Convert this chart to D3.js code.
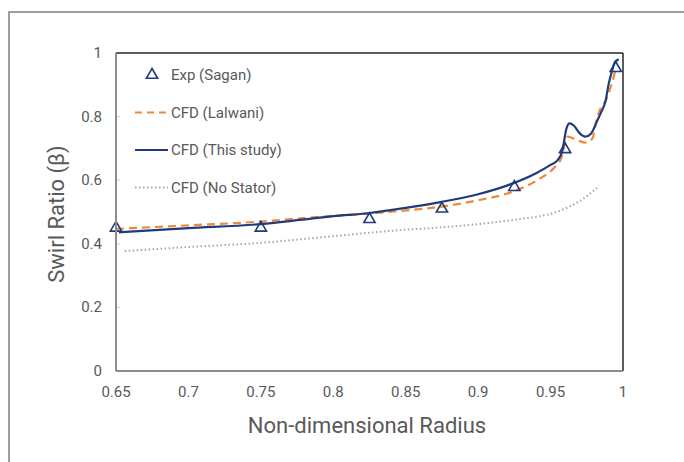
<!DOCTYPE html>
<html>
<head>
<meta charset="utf-8">
<script src="https://cdn.jsdelivr.net/npm/d3@7"></script>
<style>
  body { margin: 0; background: #fff; }
  text { font-family: Roboto, "Noto Sans", sans-serif; fill: #595959; }
</style>
</head>
<body>
<div id="chart"></div>
<script>
// experimental points (Sagan)
const expX = [0.65, 0.75, 0.825, 0.875, 0.925, 0.96, 0.995];
const expY = [0.45, 0.45, 0.477, 0.51, 0.578, 0.697, 0.952];

// CFD (Lalwani)
const lalX = [0.65, 0.7, 0.75, 0.777, 0.8, 0.824, 0.85, 0.875, 0.9, 0.924, 0.94, 0.952, 0.957, 0.962, 0.967, 0.974, 0.979, 0.981, 0.984, 0.988, 0.992, 0.995];
const lalY = [0.447, 0.458, 0.47, 0.48, 0.488, 0.495, 0.505, 0.517, 0.537, 0.564, 0.598, 0.637, 0.665, 0.737, 0.729, 0.718, 0.732, 0.775, 0.821, 0.85, 0.9, 0.95];

// CFD (This study)
const thisX = [0.652, 0.7, 0.75, 0.777, 0.8, 0.824, 0.85, 0.875, 0.9, 0.924, 0.94, 0.95, 0.955, 0.958, 0.961, 0.963, 0.966, 0.97, 0.974, 0.978, 0.982, 0.985, 0.988, 0.99, 0.9925, 0.9945, 0.997];
const thisY = [0.436, 0.449, 0.462, 0.475, 0.487, 0.496, 0.513, 0.532, 0.556, 0.59, 0.622, 0.648, 0.664, 0.69, 0.763, 0.779, 0.772, 0.748, 0.737, 0.747, 0.785, 0.815, 0.85, 0.9, 0.945, 0.972, 0.98];

// CFD (No Stator)
const noX = [0.656, 0.7, 0.75, 0.777, 0.8, 0.846, 0.875, 0.9, 0.929, 0.943, 0.952, 0.962, 0.972, 0.983];
const noY = [0.377, 0.39, 0.403, 0.414, 0.424, 0.443, 0.452, 0.462, 0.478, 0.487, 0.497, 0.515, 0.54, 0.58];

const xTicks = [0.65, 0.7, 0.75, 0.8, 0.85, 0.9, 0.95, 1];
const yTicks = [0, 0.2, 0.4, 0.6, 0.8, 1];

const W = 684, H = 462;
const plotL = 116, plotR = 623, plotT = 53, plotB = 371;

const svg = d3.select("#chart").append("svg")
  .attr("width", W).attr("height", H);

// outer frame
svg.append("rect")
  .attr("x", 9).attr("y", 12)
  .attr("width", 700).attr("height", 480)
  .attr("fill", "none").attr("stroke", "#7f7f7f").attr("stroke-width", 1.5);

const x = d3.scaleLinear().domain([0.65, 1]).range([plotL, plotR]);
const y = d3.scaleLinear().domain([0, 1]).range([plotB, plotT]);

// y tick marks (small, inside)
svg.selectAll(".ytick").data(yTicks.slice(1, -1)).enter().append("line")
  .attr("x1", plotL).attr("x2", plotL + 4)
  .attr("y1", d => y(d)).attr("y2", d => y(d))
  .attr("stroke", "#d0d0d0").attr("stroke-width", 1);

// tick labels
svg.selectAll(".ylab").data(yTicks).enter().append("text")
  .attr("x", 102).attr("y", d => y(d) + 5)
  .attr("text-anchor", "end").attr("font-size", 15)
  .text(d => d3.format("")(d));

svg.selectAll(".xlab").data(xTicks).enter().append("text")
  .attr("x", d => x(d)).attr("y", 397)
  .attr("text-anchor", "middle").attr("font-size", 15)
  .text(d => d3.format("")(d));

// axis titles
svg.append("text")
  .attr("x", 367).attr("y", 433)
  .attr("text-anchor", "middle").attr("font-size", 22)
  .text("Non-dimensional Radius");

svg.append("text")
  .attr("transform", "translate(64,214) rotate(-90)")
  .attr("text-anchor", "middle").attr("font-size", 22)
  .text("Swirl Ratio (β)");

// series
const line = d3.line().x(d => x(d[0])).y(d => y(d[1])).curve(d3.curveMonotoneX);
const zip = (a, b) => a.map((v, i) => [v, b[i]]);

svg.append("path").datum(zip(noX, noY))
  .attr("d", line).attr("fill", "none")
  .attr("stroke", "#a6a6a6").attr("stroke-width", 2)
  .attr("stroke-dasharray", "1.5,2.5");

svg.append("path").datum(zip(lalX, lalY))
  .attr("d", line).attr("fill", "none")
  .attr("stroke", "#f0873a").attr("stroke-width", 2.2)
  .attr("stroke-dasharray", "8,5");

svg.append("path").datum(zip(thisX, thisY))
  .attr("d", line).attr("fill", "none")
  .attr("stroke", "#1f3a7d").attr("stroke-width", 2.2);

const tri = d3.symbol().type(d3.symbolTriangle).size(55);
svg.selectAll(".exp").data(zip(expX, expY)).enter().append("path")
  .attr("d", tri)
  .attr("transform", d => `translate(${x(d[0])},${y(d[1])})`)
  .attr("fill", "none").attr("stroke", "#1f3a7d").attr("stroke-width", 1.6);

// plot frame
svg.append("line").attr("x1", plotL).attr("x2", plotR).attr("y1", plotT).attr("y2", plotT)
  .attr("stroke", "#262626").attr("stroke-width", 1.5);
svg.append("line").attr("x1", plotR).attr("x2", plotR).attr("y1", plotT).attr("y2", plotB)
  .attr("stroke", "#262626").attr("stroke-width", 1.5);
svg.append("line").attr("x1", plotL).attr("x2", plotL).attr("y1", plotT).attr("y2", plotB)
  .attr("stroke", "#8c8c8c").attr("stroke-width", 2);
svg.append("line").attr("x1", plotL).attr("x2", plotR).attr("y1", plotB).attr("y2", plotB)
  .attr("stroke", "#8c8c8c").attr("stroke-width", 2);

// legend
const legend = [
  { name: "Exp (Sagan)", type: "tri" },
  { name: "CFD (Lalwani)", type: "dash" },
  { name: "CFD (This study)", type: "solid" },
  { name: "CFD (No Stator)", type: "dot" }
];
const lg = svg.append("g");
legend.forEach((d, i) => {
  const ly = 75 + i * 37.5;
  if (d.type === "tri") {
    lg.append("path").attr("d", tri)
      .attr("transform", `translate(152,${ly})`)
      .attr("fill", "none").attr("stroke", "#1f3a7d").attr("stroke-width", 1.6);
  } else {
    const ln = lg.append("line").attr("x1", 135).attr("x2", 168).attr("y1", ly).attr("y2", ly)
      .attr("fill", "none");
    if (d.type === "dash") ln.attr("stroke", "#f0873a").attr("stroke-width", 2.2).attr("stroke-dasharray", "7,5");
    if (d.type === "solid") ln.attr("stroke", "#1f3a7d").attr("stroke-width", 2.2);
    if (d.type === "dot") ln.attr("stroke", "#a6a6a6").attr("stroke-width", 2).attr("stroke-dasharray", "1.5,2.5");
  }
  lg.append("text").attr("x", 171).attr("y", ly + 5)
    .attr("font-size", 15).text(d.name);
});
</script>
</body>
</html>
